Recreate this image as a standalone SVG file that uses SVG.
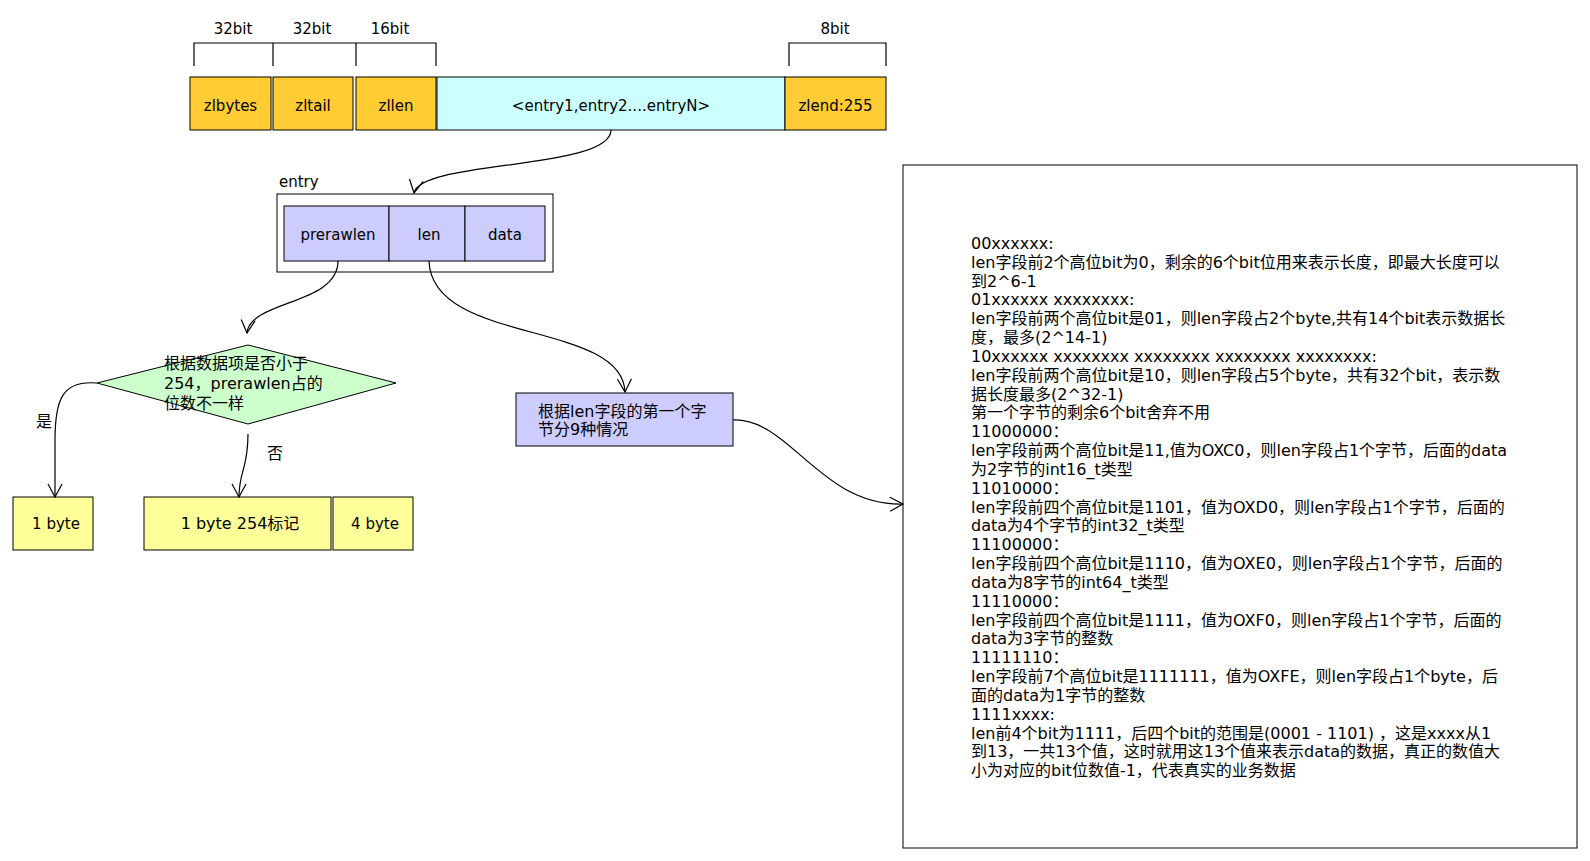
<svg xmlns="http://www.w3.org/2000/svg" width="1590" height="861" viewBox="0 0 1590 861">
<defs>
<style>
.t{font-family:"DejaVu Sans","Noto Sans CJK SC",sans-serif;font-size:15px;fill:#000}
.k{font-size:16px}
.c{text-anchor:middle}
.box{stroke:#000;stroke-width:1}
.or{fill:#FFCC33}
.cy{fill:#CCFFFF}
.lv{fill:#CCCCFF}
.ye{fill:#FFFF99}
.gr{fill:#CCFFCC}
.ln{fill:none;stroke:#000;stroke-width:1.2}
</style>
<marker id="ar" markerUnits="userSpaceOnUse" markerWidth="30" markerHeight="30" viewBox="-15 -15 30 30" refX="0" refY="0" orient="auto">
<path d="M-13,-7 L0,0 L-13,7" fill="none" stroke="#000" stroke-width="1.2"/>
</marker>
</defs>
<rect width="1590" height="861" fill="#fff"/>

<g id="brackets">
<path class="ln" d="M194,66 V43 H436 V66 M273,43 V66 M356,43 V66"/>
<path class="ln" d="M789,66 V43 H886 V66"/>
<text class="t c" x="233" y="34">32bit</text>
<text class="t c" x="312" y="34">32bit</text>
<text class="t c" x="390" y="34">16bit</text>
<text class="t c" x="835" y="34">8bit</text>
</g>

<g id="zlbytes"><rect class="box or" x="190" y="77" width="81" height="53"/><text class="t c" x="230.5" y="111">zlbytes</text></g>
<g id="zltail"><rect class="box or" x="273" y="77" width="80" height="53"/><text class="t c" x="313" y="111">zltail</text></g>
<g id="zllen"><rect class="box or" x="356" y="77" width="80" height="53"/><text class="t c" x="396" y="111">zllen</text></g>
<g id="entries"><rect class="box cy" x="437" y="77" width="348" height="53"/><text class="t c" x="611" y="111">&lt;entry1,entry2....entryN&gt;</text></g>
<g id="zlend"><rect class="box or" x="785" y="77" width="101" height="53"/><text class="t c" x="835.5" y="111">zlend:255</text></g>

<g id="entry">
<text class="t" x="279" y="187">entry</text>
<rect class="box" fill="#fff" x="277" y="194" width="276" height="78"/>
</g>
<g id="prerawlen"><rect class="box lv" x="284" y="206" width="105" height="55"/><text class="t c" x="338" y="240">prerawlen</text></g>
<g id="len"><rect class="box lv" x="389" y="206" width="76" height="55"/><text class="t c" x="429" y="240">len</text></g>
<g id="data"><rect class="box lv" x="465" y="206" width="80" height="55"/><text class="t c" x="505" y="240">data</text></g>

<g id="decision">
<polygon class="box gr" points="97,383 248,345 396,383 248,424"/>
<text class="t k" x="164" y="369">根据数据项是否小于</text>
<text class="t k" x="164" y="389">254，prerawlen占的</text>
<text class="t k" x="164" y="409">位数不一样</text>
</g>

<g id="byte1"><rect class="box ye" x="13" y="497" width="80" height="53"/><text class="t c" x="56" y="529">1 byte</text></g>
<g id="byte254"><rect class="box ye" x="144" y="497" width="187" height="53"/><text class="t k c" x="240" y="529">1 byte 254标记</text></g>
<g id="byte4"><rect class="box ye" x="333" y="497" width="80" height="53"/><text class="t c" x="375" y="529">4 byte</text></g>

<g id="lenbox"><rect class="box lv" x="516" y="393" width="217" height="53"/>
<text class="t k" x="538" y="417">根据len字段的第一个字</text>
<text class="t k" x="538" y="435">节分9种情况</text></g>

<g id="desc">
<rect class="box" fill="#fff" x="903" y="165" width="674" height="683"/>
<text class="t k" x="971" y="249">
<tspan x="971" dy="0">00xxxxxx:</tspan>
<tspan x="971" dy="18.83">len字段前2个高位bit为0，剩余的6个bit位用来表示长度，即最大长度可以</tspan>
<tspan x="971" dy="18.83">到2^6-1</tspan>
<tspan x="971" dy="18.83">01xxxxxx xxxxxxxx:</tspan>
<tspan x="971" dy="18.83">len字段前两个高位bit是01，则len字段占2个byte,共有14个bit表示数据长</tspan>
<tspan x="971" dy="18.83">度，最多(2^14-1)</tspan>
<tspan x="971" dy="18.83">10xxxxxx xxxxxxxx xxxxxxxx xxxxxxxx xxxxxxxx:</tspan>
<tspan x="971" dy="18.83">len字段前两个高位bit是10，则len字段占5个byte，共有32个bit，表示数</tspan>
<tspan x="971" dy="18.83">据长度最多(2^32-1)</tspan>
<tspan x="971" dy="18.83">第一个字节的剩余6个bit舍弃不用</tspan>
<tspan x="971" dy="18.83">11000000：</tspan>
<tspan x="971" dy="18.83">len字段前两个高位bit是11,值为OXC0，则len字段占1个字节，后面的data</tspan>
<tspan x="971" dy="18.83">为2字节的int16_t类型</tspan>
<tspan x="971" dy="18.83">11010000：</tspan>
<tspan x="971" dy="18.83">len字段前四个高位bit是1101，值为OXD0，则len字段占1个字节，后面的</tspan>
<tspan x="971" dy="18.83">data为4个字节的int32_t类型</tspan>
<tspan x="971" dy="18.83">11100000：</tspan>
<tspan x="971" dy="18.83">len字段前四个高位bit是1110，值为OXE0，则len字段占1个字节，后面的</tspan>
<tspan x="971" dy="18.83">data为8字节的int64_t类型</tspan>
<tspan x="971" dy="18.83">11110000：</tspan>
<tspan x="971" dy="18.83">len字段前四个高位bit是1111，值为OXF0，则len字段占1个字节，后面的</tspan>
<tspan x="971" dy="18.83">data为3字节的整数</tspan>
<tspan x="971" dy="18.83">11111110：</tspan>
<tspan x="971" dy="18.83">len字段前7个高位bit是1111111，值为OXFE，则len字段占1个byte，后</tspan>
<tspan x="971" dy="18.83">面的data为1字节的整数</tspan>
<tspan x="971" dy="18.83">1111xxxx:</tspan>
<tspan x="971" dy="18.83">len前4个bit为1111，后四个bit的范围是(0001 - 1101) ，这是xxxx从1</tspan>
<tspan x="971" dy="18.83">到13，一共13个值，这时就用这13个值来表示data的数据，真正的数值大</tspan>
<tspan x="971" dy="18.83">小为对应的bit位数值-1，代表真实的业务数据</tspan>
</text>
</g>

<g id="connectors">
<path class="ln" marker-end="url(#ar)" d="M611,130 C611,170 420,160 414,193"/>
<path class="ln" marker-end="url(#ar)" d="M338,261 C338,305 250,300 247,333"/>
<path class="ln" marker-end="url(#ar)" d="M97,383 C62,380 55,400 55,440 L55,497"/>
<path class="ln" marker-end="url(#ar)" d="M248,434 C248,470 239,470 239,497"/>
<path class="ln" marker-end="url(#ar)" d="M429,261 C432,345 622,320 625,392"/>
<path class="ln" marker-end="url(#ar)" d="M733,420 C790,418 820,506 903,504"/>
<text class="t k" x="36" y="427">是</text>
<text class="t k" x="267" y="459">否</text>
</g>
</svg>
